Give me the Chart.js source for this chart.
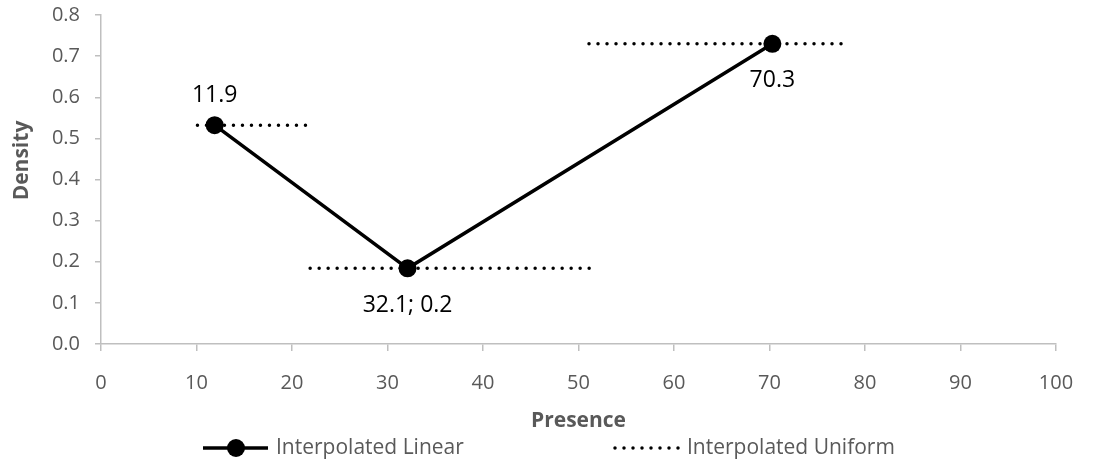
<!DOCTYPE html>
<html>
<head>
<meta charset="utf-8">
<script src="https://cdn.jsdelivr.net/npm/chart.js@4.4.1/dist/chart.umd.min.js"></script>
<style>
  html, body { margin: 0; padding: 0; background: #fff; }
  #wrap { width: 1113px; height: 472px; }
</style>
</head>
<body>
<div id="wrap"><canvas id="grafico"></canvas></div>
<script>
// valores
const presence = [11.9, 32.1, 70.3];
const density = [0.532, 0.184, 0.73];
const pointLabels = ["11.9", "32.1; 0.2", "70.3"];

// intervalos da densidade uniforme
const uniformFrom = [10.1, 21.9, 51.1];
const uniformTo = [21.6, 51.2, 78.3];

const xTicks = [0, 10, 20, 30, 40, 50, 60, 70, 80, 90, 100];
const yTicks = [0, 0.1, 0.2, 0.3, 0.4, 0.5, 0.6, 0.7, 0.8];

const fonte = "'Open Sans', 'Noto Sans', sans-serif";
const cinza = "#595959";
const eixo = "#bfbfbf";

// monta os pontos das duas series
const pontosLinear = presence.map((x, i) => ({ x: x, y: density[i] }));
const pontosUniforme = [];
uniformFrom.forEach((de, i) => {
  pontosUniforme.push({ x: de, y: density[i] });
  pontosUniforme.push({ x: uniformTo[i], y: density[i] });
  if (i < uniformFrom.length - 1) pontosUniforme.push({ x: uniformTo[i], y: null }); // quebra a linha
});

// rotulos dos pontos (acima do primeiro, abaixo dos outros)
const rotulos = {
  id: "rotulos",
  afterDatasetsDraw(chart) {
    const ctx = chart.ctx;
    const meta = chart.getDatasetMeta(1);
    ctx.save();
    ctx.font = "23px " + fonte;
    ctx.fillStyle = "#000";
    ctx.textAlign = "center";
    ctx.textBaseline = "middle";
    meta.data.forEach((p, i) => {
      const dy = i === 0 ? -30 : 37;
      ctx.fillText(pointLabels[i], p.x, p.y + dy);
    });
    ctx.restore();
  }
};

// titulo do eixo y, um pouco acima do centro como no original
const tituloY = {
  id: "tituloY",
  afterDraw(chart) {
    const ctx = chart.ctx;
    const area = chart.chartArea;
    ctx.save();
    ctx.translate(22, (area.top + area.bottom) / 2 - 19);
    ctx.rotate(-Math.PI / 2);
    ctx.font = "bold 21px " + fonte;
    ctx.fillStyle = cinza;
    ctx.textAlign = "center";
    ctx.textBaseline = "middle";
    ctx.fillText("Density", 0, 0);
    ctx.restore();
  }
};

// legenda desenhada na parte de baixo
const legenda = {
  id: "legenda",
  afterDraw(chart) {
    const ctx = chart.ctx;
    const y = 448;
    ctx.save();
    ctx.font = "21px " + fonte;
    ctx.fillStyle = cinza;
    ctx.textBaseline = "middle";

    const lin = chart.data.datasets[1];
    ctx.strokeStyle = lin.borderColor;
    ctx.lineWidth = lin.borderWidth;
    ctx.beginPath();
    ctx.moveTo(203, y);
    ctx.lineTo(268, y);
    ctx.stroke();
    ctx.beginPath();
    ctx.arc(236, y, lin.pointRadius, 0, Math.PI * 2);
    ctx.fillStyle = lin.backgroundColor;
    ctx.fill();
    ctx.fillStyle = cinza;
    ctx.fillText(lin.label, 276, y);

    const uni = chart.data.datasets[0];
    ctx.strokeStyle = uni.borderColor;
    ctx.lineWidth = uni.borderWidth;
    ctx.lineCap = "round";
    ctx.setLineDash(uni.borderDash);
    ctx.beginPath();
    ctx.moveTo(615, y);
    ctx.lineTo(679, y);
    ctx.stroke();
    ctx.setLineDash([]);
    ctx.fillText(uni.label, 687, y);
    ctx.restore();
  }
};

const config = {
  type: "scatter",
  data: {
    datasets: [
      {
        label: "Interpolated Uniform",
        data: pontosUniforme,
        showLine: true,
        spanGaps: false,
        borderColor: "#000",
        borderWidth: 3.5,
        borderDash: [0, 9],
        borderCapStyle: "round",
        pointRadius: 0,
        pointHoverRadius: 0
      },
      {
        label: "Interpolated Linear",
        data: pontosLinear,
        showLine: true,
        borderColor: "#000",
        backgroundColor: "#000",
        borderWidth: 3.5,
        pointRadius: 9,
        pointBorderWidth: 0,
        pointBackgroundColor: "#000"
      }
    ]
  },
  options: {
    responsive: false,
    animation: false,
    layout: { padding: { left: 0, right: 57, top: 15, bottom: 38 } },
    plugins: {
      legend: { display: false },
      tooltip: { enabled: false }
    },
    scales: {
      x: {
        type: "linear",
        min: 0,
        max: 100,
        afterBuildTicks: s => { s.ticks = xTicks.map(v => ({ value: v })); },
        afterFit: s => { s.height = 90; s.paddingLeft = 0; s.paddingRight = 0; },
        border: { color: eixo, width: 1.5 },
        grid: { drawOnChartArea: false, drawTicks: true, tickLength: 7, color: eixo, lineWidth: 1.5 },
        ticks: { color: cinza, font: { family: fonte, size: 20 }, padding: 20, maxRotation: 0 },
        title: {
          display: true,
          text: "Presence",
          color: cinza,
          font: { family: fonte, size: 21, weight: "bold" },
          padding: 0
        }
      },
      y: {
        min: 0,
        max: 0.8,
        afterBuildTicks: s => { s.ticks = yTicks.map(v => ({ value: v })); },
        afterFit: s => { s.width = 101; s.paddingTop = 0; s.paddingBottom = 0; },
        border: { color: eixo, width: 1.5 },
        grid: { drawOnChartArea: false, drawTicks: true, tickLength: 6, color: eixo, lineWidth: 1.5 },
        ticks: { color: cinza, font: { family: fonte, size: 20 }, padding: 15, callback: v => v.toFixed(1) },
        title: { display: false }
      }
    }
  },
  plugins: [rotulos, tituloY, legenda]
};

const canvas = document.getElementById("grafico");
canvas.width = 1113;
canvas.height = 472;
new Chart(canvas.getContext("2d"), config);
</script>
</body>
</html>
